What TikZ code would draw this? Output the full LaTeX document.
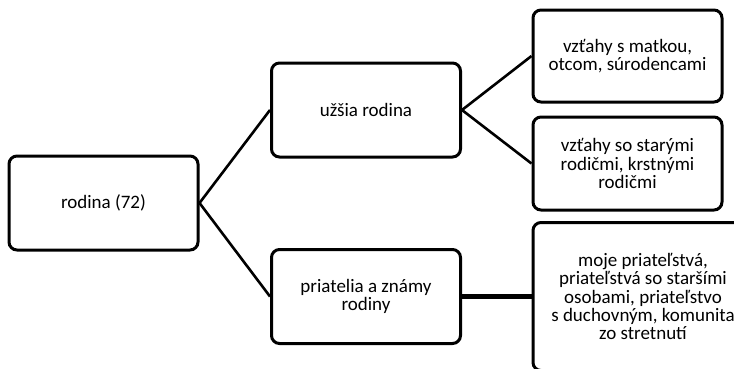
\documentclass[tikz,border=0pt]{standalone}
\usepackage{fontspec}
\setmainfont{Carlito}
\usepackage{xcolor}
\usepackage{tikz}
\usetikzlibrary{positioning}

\tikzset{
    box/.style={draw, rounded corners=8pt, line width=3pt, fill=white,
        minimum width=189pt, minimum height=94pt, inner sep=0pt,
        align=center, font=\fontsize{19}{18.4}\selectfont},
    link/.style={line width=2.6pt},
}

\begin{document}
\begin{tikzpicture}[x=1pt,y=-1pt]
    \useasboundingbox (0,0) rectangle (734,368);
    \clip (0,0) rectangle (734,368);

    % Boxes
    \node [box] (rodina) at (103.5,203) {rodina (72)};
    \node [box] (uzsia) at (366,110) {užšia rodina};
    \node [box] (priatelia) at (366,296.5) {priatelia a známy\\rodiny};
    \node [box, minimum height=92pt] (matka) at (627.5,56) {vzťahy s matkou,\\otcom, súrodencami};
    \node [box, minimum height=93pt] (starirodicia) at (627.5,163.5) {vzťahy so starými\\rodičmi, krstnými\\rodičmi};
    \node [box, minimum width=220pt, minimum height=148pt] (priatelstva) at (643,296.5)
        {moje priateľstvá,\\priateľstvá so staršími\\osobami, priateľstvo\\s duchovným, komunita\\zo stretnutí};

    % Connectors
    \draw [link] (rodina.east) -- (uzsia.west);
    \draw [link] (rodina.east) -- (priatelia.west);
    \draw [link] (uzsia.east) -- (matka.west);
    \draw [link] (uzsia.east) -- (starirodicia.west);
    \draw [link, line width=4.5pt] (priatelia.east) -- (priatelstva.west);
\end{tikzpicture}
\end{document}
